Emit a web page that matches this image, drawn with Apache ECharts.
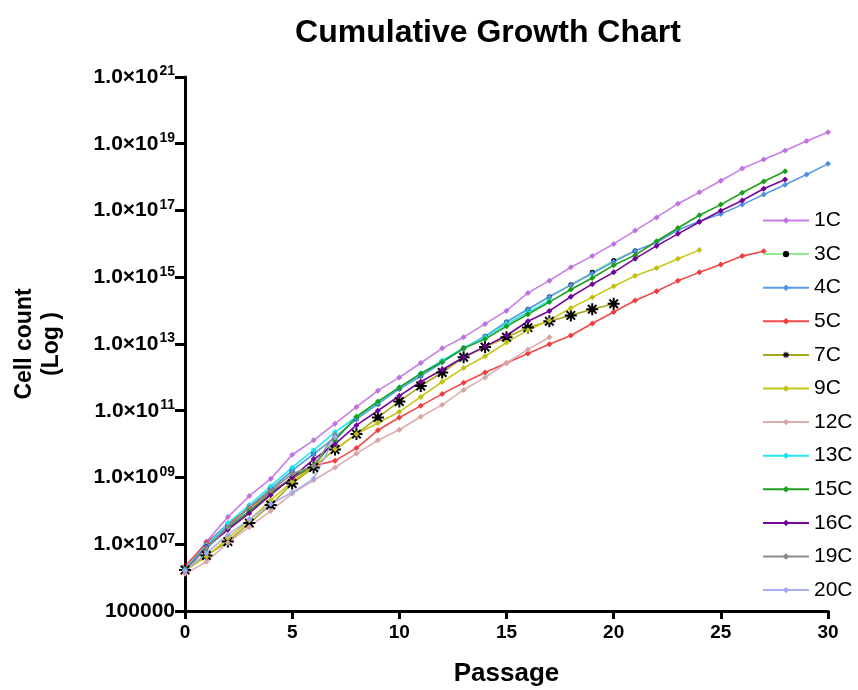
<!DOCTYPE html>
<html>
<head>
<meta charset="utf-8">
<script src="https://cdn.jsdelivr.net/npm/echarts@6/dist/echarts.min.js"></script>
<style>
html,body{margin:0;padding:0;background:#fff;}
#chart{width:858px;height:690px;}
</style>
</head>
<body>
<div id="chart"></div>
<script>
// ---- data ----
const passages = [0,1,2,3,4,5,6,7,8,9,10,11,12,13,14,15,16,17,18,19,20,21,22,23,24,25,26,27,28,29,30];
const seriesNames = ['1C','3C','4C','5C','7C','9C','12C','13C','15C','16C','19C','20C'];

const c1C  = [1.7e6,1.2e7,6.5e7,2.8e8,9.1e8,4.8e9,1.3e10,4.1e10,1.3e11,4.0e11,1.0e12,2.7e12,7.4e12,1.6e13,4.0e13,1.0e14,3.4e14,7.9e14,2.0e15,4.3e15,1.0e16,2.5e16,6.2e16,1.6e17,3.5e17,7.8e17,1.8e18,3.4e18,6.3e18,1.2e19,2.2e19];
const c3C  = [1.7e6,9.1e6,3.6e7,1.3e8,4.6e8,1.6e9,5.1e9,1.6e10,5.7e10,1.6e11,4.6e11,1.1e12,3.0e12,7.6e12,1.7e13,4.6e13,1.1e14,2.6e14,6.0e14,1.4e15,3.2e15,6.2e15];
const c4C  = [1.7e6,8.9e6,3.5e7,1.3e8,4.5e8,1.6e9,5.0e9,1.6e10,5.6e10,1.6e11,4.5e11,1.1e12,2.8e12,7.4e12,1.7e13,4.6e13,1.1e14,2.6e14,5.8e14,1.3e15,2.9e15,6.2e15,1.1e16,2.6e16,4.8e16,7.8e16,1.5e17,3.0e17,5.9e17,1.2e18,2.5e18];
const c5C  = [2.2e6,1.1e7,4.0e7,1.2e8,3.7e8,9.3e8,2.2e9,3.2e9,7.6e9,2.6e10,6.3e10,1.4e11,3.2e11,6.9e11,1.4e12,2.7e12,5.2e12,9.8e12,1.8e13,4.1e13,9.1e13,2.0e14,3.8e14,7.8e14,1.4e15,2.4e15,4.3e15,6.0e15];
const c7C  = [1.7e6,4.6e6,1.2e7,4.3e7,1.5e8,6.6e8,2.0e9,6.9e9,2.0e10,6.3e10,1.9e11,5.5e11,1.4e12,4.0e12,8.1e12,1.6e13,3.1e13,4.8e13,7.2e13,1.1e14,1.6e14];
const c9C  = [1.6e6,4.3e6,1.5e7,5.2e7,2.1e8,7.4e8,2.2e9,7.1e9,2.0e10,4.3e10,9.3e10,2.6e11,7.4e11,1.9e12,4.3e12,1.1e13,2.6e13,5.1e13,1.2e14,2.5e14,5.4e14,1.1e15,1.9e15,3.6e15,6.5e15];
const c12C = [1.3e6,3.0e6,1.1e7,3.3e7,1.0e8,3.3e8,8.3e8,2.0e9,5.2e9,1.3e10,2.7e10,6.6e10,1.5e11,4.2e11,1.0e12,2.7e12,6.9e12,1.6e13];
const c13C = [1.8e6,9.5e6,4.3e7,1.5e8,5.5e8,2.0e9,6.6e9,2.3e10,6.6e10,1.8e11,5.0e11,1.3e12,3.2e12,7.6e12,1.6e13,4.0e13,8.9e13,2.0e14];
const c15C = [1.7e6,7.6e6,3.0e7,1.0e8,3.3e8,1.0e9,2.3e9,1.3e10,6.6e10,1.9e11,5.0e11,1.3e12,2.9e12,7.4e12,1.4e13,3.4e13,7.8e13,1.8e14,4.3e14,9.5e14,2.3e15,4.6e15,1.2e16,3.0e16,7.2e16,1.5e17,3.4e17,7.4e17,1.5e18];
const c16C = [1.6e6,8.5e6,2.7e7,8.5e7,3.0e8,1.0e9,3.5e9,1.0e10,3.7e10,1.0e11,2.8e11,7.4e11,1.7e12,4.0e12,8.5e12,1.8e13,4.8e13,9.8e13,2.6e14,6.2e14,1.4e15,3.6e15,8.7e15,2.0e16,4.5e16,9.8e16,2.0e17,4.5e17,8.5e17];
const c19C = [1.6e6,7.9e6,3.2e7,1.3e8,4.0e8,1.3e9,2.2e9,1.9e10];
const c20C = [1.6e6,5.4e6,1.9e7,5.6e7,1.6e8,3.6e8,9.1e8,1.6e10];

const seriesValues = [c1C,c3C,c4C,c5C,c7C,c9C,c12C,c13C,c15C,c16C,c19C,c20C];
const yTickValues = [1e5,1e7,1e9,1e11,1e13,1e15,1e17,1e19,9.99999e20];

// ---- styles ----
const lineColors   = ['#c87fe8','#8fee8f','#5a9ce8','#f04a4a','#a8a820','#c8c818','#dcaeae','#28e6f0','#1f9e1f','#78069c','#8c8c8c','#aab0f2'];
const markerColors = ['#c070e0','#000000','#4f90e0','#f03c3c','#000000','#c0c010','#d8a4a4','#18e0ec','#18a018','#70009a','#888888','#a0a8f0'];
const starPath = 'path://M-1,-6L1,-6L1,6L-1,6Z M-6,-1L6,-1L6,1L-6,1Z M-4.95,-3.54L-3.54,-4.95L4.95,3.54L3.54,4.95Z M-3.54,4.95L-4.95,3.54L3.54,-4.95L4.95,-3.54Z';

const FONT = '"Liberation Sans", Arial, sans-serif';

const series = seriesNames.map((name, i) => {
  let symbol = 'diamond', size = 6;
  if (name === '7C') { symbol = starPath; size = 12; }
  if (name === '3C') { symbol = 'circle'; size = 5; }
  return {
    name: name,
    type: 'line',
    data: seriesValues[i].map((v, k) => [passages[k], v]),
    symbol: symbol,
    symbolSize: size,
    showSymbol: true,
    lineStyle: { color: lineColors[i], width: 1.6 },
    itemStyle: { color: markerColors[i] },
    emphasis: { disabled: true },
    animation: false
  };
});

function pad2(n){ return (n < 10 ? '0' : '') + n; }

const chart = echarts.init(document.getElementById('chart'), null, { renderer: 'canvas' });
chart.setOption({
  backgroundColor: '#ffffff',
  animation: false,
  title: {
    text: 'Cumulative Growth Chart',
    left: 483, top: 12, textAlign: 'center',
    textStyle: { fontFamily: FONT, fontWeight: 'bold', fontSize: 32, color: '#000' }
  },
  legend: {
    data: seriesNames,
    orient: 'vertical',
    left: 757, top: 205,
    itemWidth: 46, itemHeight: 8, itemGap: 12.6,
    textStyle: { fontFamily: FONT, fontSize: 21, color: '#000', lineHeight: 20 },
    selectedMode: false
  },
  grid: { left: 185, right: 30, top: 77, bottom: 79, containLabel: false, outerBoundsMode: 'none' },
  xAxis: {
    type: 'value', min: 0, max: 30, interval: 5,
    name: 'Passage', nameLocation: 'middle', nameGap: 50,
    nameTextStyle: { fontFamily: FONT, fontWeight: 'bold', fontSize: 26, color: '#000' },
    axisLine: { show: true, lineStyle: { color: '#000', width: 3 } },
    axisTick: { show: true, length: 8, lineStyle: { color: '#000', width: 3 } },
    axisLabel: { fontFamily: FONT, fontWeight: 'bold', fontSize: 19, color: '#000', margin: 12 },
    splitLine: { show: false }
  },
  yAxis: {
    type: 'log', logBase: 10, min: 1e5, max: 1e21,
    name: 'Cell count\n(Log )', nameLocation: 'middle', nameGap: 120,
    nameTextStyle: { fontFamily: FONT, fontWeight: 'bold', fontSize: 23, color: '#000', lineHeight: 27 },
    axisLine: { show: true, lineStyle: { color: '#000', width: 3 } },
    axisTick: { show: true, length: 10, customValues: yTickValues, lineStyle: { color: '#000', width: 3 } },
    axisLabel: {
      customValues: yTickValues,
      margin: 10,
      showMaxLabel: true, showMinLabel: true,
      formatter: function (v) {
        const e = Math.round(Math.log10(v));
        if (e === 5) return '{m|100000}';
        return '{m|1.0×10}{e|' + pad2(e) + '}';
      },
      rich: {
        m: { fontFamily: FONT, fontWeight: 'bold', fontSize: 21, color: '#000' },
        e: { fontFamily: FONT, fontWeight: 'bold', fontSize: 14, color: '#000', padding: [0, 0, 11, 1] }
      }
    },
    splitLine: { show: false },
    minorTick: { show: false }
  },
  series: series
});
</script>
</body>
</html>
